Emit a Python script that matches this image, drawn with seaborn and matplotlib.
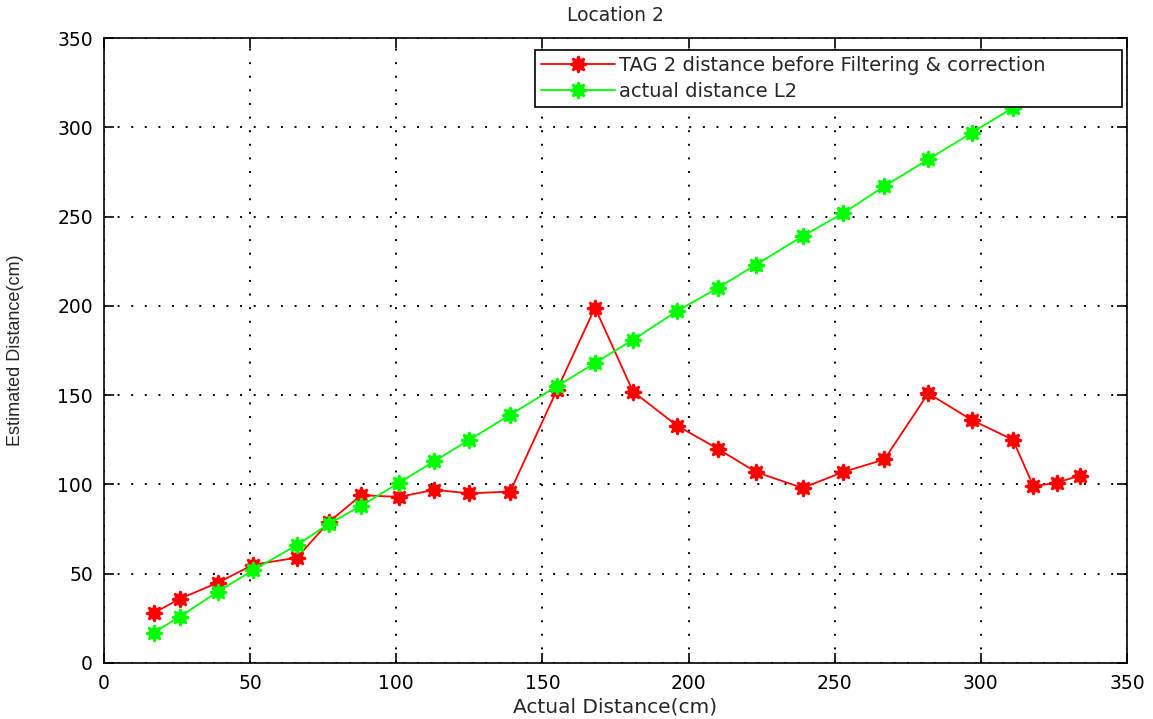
import numpy as np
import pandas as pd
import matplotlib
matplotlib.use("Agg")
import matplotlib.pyplot as plt
import seaborn as sns

# Measurement positions along the track (cm)
actual_cm = [17, 26, 39, 51, 66, 77, 88, 101, 113, 125, 139, 155, 168, 181,
             196, 210, 223, 239, 253, 267, 282, 297, 311, 318, 326, 334]

# Raw TAG 2 estimates before filtering & correction (cm)
tag2_raw_cm = [28, 36, 45, 55, 59, 79, 94, 93, 97, 95, 96, 153, 199, 152,
               133, 120, 107, 98, 107, 114, 151, 136, 125, 99, 101, 105]

# Reference (true) distance for location 2 (cm)
actual_l2_cm = [17, 26, 40, 52, 66, 78, 88, 101, 113, 125, 139, 155, 168, 181,
                197, 210, 223, 239, 252, 267, 282, 297, 311, 318, 326, 334]

series_labels = ["TAG 2 distance before Filtering & correction", "actual distance L2"]
x_ticks = [0, 50, 100, 150, 200, 250, 300, 350]
y_ticks = [0, 50, 100, 150, 200, 250, 300, 350]

sns.set_style("ticks")
plt.rcParams["font.family"] = ["DejaVu Sans"]

fig = plt.figure(figsize=(11.53, 7.19), dpi=100)
ax = fig.add_axes([0.0902, 0.0779, 0.8872, 0.8692])

star = (8, 1, 0)
sns.lineplot(x=actual_cm, y=tag2_raw_cm, ax=ax, color="#ff0000", linewidth=1.3,
             marker=star, markersize=12, markeredgewidth=1.6,
             markeredgecolor="#ff0000", markerfacecolor="#ff0000",
             sort=False, label=series_labels[0])
sns.lineplot(x=actual_cm, y=actual_l2_cm, ax=ax, color="#00ff00", linewidth=1.3,
             marker=star, markersize=12, markeredgewidth=1.6,
             markeredgecolor="#00ff00", markerfacecolor="#00ff00",
             sort=False, label=series_labels[1])

ax.set_xlim(0, 350)
ax.set_ylim(0, 350)
ax.set_xticks(x_ticks)
ax.set_yticks(y_ticks)
ax.tick_params(axis="both", which="both", direction="in", length=7, width=1.2,
               top=True, right=True, labelsize=13.5, colors="black", pad=8)
for side in ["left", "right", "top", "bottom"]:
    ax.spines[side].set_visible(True)
    ax.spines[side].set_color("black")
    ax.spines[side].set_linewidth(1.2)

ax.grid(True, color="black", linestyle=(0, (1, 6)), linewidth=1.4)
ax.set_axisbelow(True)

ax.set_title("Location 2", fontsize=13.5, pad=12)
ax.set_xlabel("Actual Distance(cm)", fontsize=14.5, labelpad=3)
ax.set_ylabel("Estimated Distance(cm)", fontsize=13,
              family=["Liberation Sans", "DejaVu Sans"], labelpad=14)
ax.yaxis.set_label_coords(-0.078, 0.5)

# Legend box stretched across the upper-right corner of the axes
leg = ax.legend(loc="upper left", bbox_to_anchor=(0.4213, 0.8848, 0.5738, 0.096),
                mode="expand", borderaxespad=0, fontsize=14, frameon=True,
                fancybox=False, edgecolor="black", framealpha=1.0,
                handlelength=3.8, borderpad=0.3, labelspacing=0.35,
                handletextpad=0.2)
leg.get_frame().set_linewidth(1.2)
leg.set_zorder(10)

fig.savefig("out.png", dpi=100, facecolor="white")
